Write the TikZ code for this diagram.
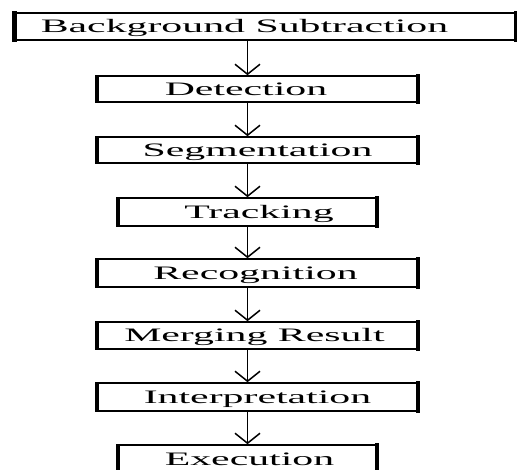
\documentclass[tikz,border=0pt]{standalone}
\usepackage{fontspec}
\newfontfamily\stagefont[FakeStretch=2.2]{Liberation Serif}
\usetikzlibrary{arrows.meta}
\begin{document}
\begin{tikzpicture}[x=1pt,y=-1pt]
\tikzstyle{stage}=[draw, line width=1.6pt, inner sep=0pt, minimum width=319pt]
\tikzstyle{caption}=[font=\stagefont\fontsize{19}{22}\selectfont, inner sep=0pt, text height=13pt, text depth=0pt]
\tikzstyle{flow}=[line width=1.5pt, -{Straight Barb[length=10pt,width=25pt,line width=1.5pt]}]
\useasboundingbox [fill=white] (0,0) rectangle (517,470);
\node [stage, minimum width=500pt, minimum height=27pt, label={[caption,xshift=-20.5pt]center:Background Subtraction}] (bg) at (265,26.5) {};
\node [stage, minimum height=26pt, label={[caption,xshift=-11.5pt]center:Detection}] (det) at (257.5,89) {};
\node [stage, minimum height=26pt, label={[caption]center:Segmentation}] (seg) at (257.5,150) {};
\node [stage, minimum width=257pt, minimum height=28pt, label={[caption,xshift=11.5pt]center:Tracking}] (trk) at (247.5,212) {};
\node [stage, minimum height=28pt, label={[caption,xshift=-2pt]center:Recognition}] (rec) at (257.5,273) {};
\node [stage, minimum height=27pt, label={[caption,xshift=-3pt]center:Merging Result}] (mrg) at (257.5,335.5) {};
\node [stage, minimum height=28pt, label={[caption]center:Interpretation}] (int) at (257.5,397) {};
\node [stage, minimum width=257pt, minimum height=28pt, label={[caption,xshift=2pt]center:Execution}] (exe) at (247.5,459) {};
% heavy sides of the boxes
\foreach \n in {bg,det,seg,trk,rec,mrg,int,exe}
  \draw [line width=3.5pt, shorten <=-0.8pt, shorten >=-0.8pt] (\n.north west) -- (\n.south west) (\n.north east) -- (\n.south east);
\draw [line width=5pt, shorten <=-0.8pt, shorten >=-0.8pt] (bg.north west) -- (bg.south west);
% arrows down the middle
\coordinate (spine) at (247.5,0);
\foreach \a/\b in {bg/det,det/seg,seg/trk,trk/rec,rec/mrg,mrg/int,int/exe}
  \draw [flow] (\a.south -| spine) -- (\b.north -| spine);
\end{tikzpicture}
\end{document}
